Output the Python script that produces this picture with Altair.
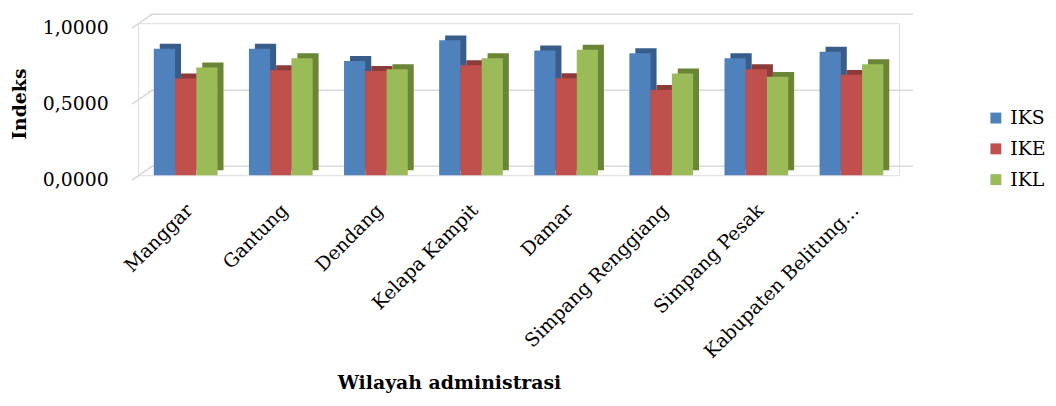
import altair as alt
import pandas as pd

categories = ["Manggar", "Gantung", "Dendang", "Kelapa Kampit", "Damar",
              "Simpang Renggiang", "Simpang Pesak", "Kabupaten Belitung..."]
series = ["IKS", "IKE", "IKL"]
iks = [0.832, 0.832, 0.752, 0.887, 0.821, 0.802, 0.769, 0.812]
ike = [0.636, 0.691, 0.686, 0.723, 0.638, 0.560, 0.697, 0.660]
ikl = [0.708, 0.769, 0.697, 0.769, 0.826, 0.669, 0.647, 0.730]
front_colors = ["#4F81BD", "#C0504D", "#9BBB59"]
side_colors = ["#385D8A", "#8C3B39", "#6B8536"]
y_ticks = [0.0, 0.5, 1.0]

rows = []
for vals, s, sc in zip([iks, ike, ikl], series, side_colors):
    for c, v in zip(categories, vals):
        rows.append(dict(wilayah=c, seri=s, indeks=v, side=sc))
df = pd.DataFrame(rows)
grid_df = pd.DataFrame({"v": y_ticks})

W, H = 766, 153
FONT = "DejaVu Serif"
DEPTH_X, DEPTH_Y = 6, -5

xscale = alt.Scale(paddingInner=0.33, paddingOuter=0.165)
yscale = alt.Scale(domain=[0, 1])

xaxis = alt.Axis(title="Wilayah administrasi", labelAngle=315,
                 labelAlign="right", labelBaseline="middle",
                 labelFont=FONT, labelFontSize=19, labelColor="#000000",
                 labelPadding=32, labelOffset=4, ticks=False, domain=False,
                 labelLimit=400, grid=False,
                 titleFont=FONT, titleFontSize=19, titleFontWeight="bold",
                 titleColor="#000000", titleX=313, titleY=209,
                 titleAlign="center", titleBaseline="middle")
yaxis = alt.Axis(title="Indeks", values=y_ticks,
                 labelExpr="replace(format(datum.value, '.4f'), '.', ',')",
                 labelFont=FONT, labelFontSize=19, labelColor="#000000",
                 labelPadding=30, labelOffset=4, ticks=False, domain=False,
                 grid=False,
                 titleFont=FONT, titleFontSize=19, titleFontWeight="bold",
                 titleColor="#000000", titleX=-119, titleY=81,
                 titleAngle=270, titleAlign="center",
                 titleBaseline="middle")

grid = alt.Chart(grid_df).mark_rule(color="#D9D9D9", strokeWidth=1.6,
                                     xOffset=14, x2Offset=14, yOffset=-9).encode(
    y=alt.Y("v:Q", scale=yscale, axis=yaxis),
    x=alt.value(0),
    x2=alt.value(W),
)
diag = alt.Chart(grid_df).mark_rule(color="#D9D9D9", strokeWidth=1.6,
                                     yOffset=5, y2Offset=-9).encode(
    y=alt.Y("v:Q", scale=yscale, axis=yaxis),
    y2="v:Q",
    x=alt.value(-6),
    x2=alt.value(14),
)

back = alt.Chart(df).mark_bar(yOffset=DEPTH_Y, y2Offset=DEPTH_Y).encode(
    x=alt.X("wilayah:N", sort=categories, scale=xscale, axis=xaxis),
    xOffset=alt.XOffset("seri:N", sort=series,
                        scale=alt.Scale(range=[DEPTH_X, DEPTH_X + 64.15])),
    y=alt.Y("indeks:Q", scale=yscale, axis=yaxis),
    color=alt.Color("side:N", scale=None),
)

front = alt.Chart(df).mark_bar().encode(
    x=alt.X("wilayah:N", sort=categories, scale=xscale, axis=xaxis),
    xOffset=alt.XOffset("seri:N", sort=series),
    y=alt.Y("indeks:Q", scale=yscale, axis=yaxis),
    color=alt.Color("seri:N", sort=series,
                    scale=alt.Scale(domain=series, range=front_colors),
                    legend=alt.Legend(title=None, orient="none", legendX=854,
                                      legendY=86, symbolType="square",
                                      symbolSize=121, symbolStrokeWidth=0,
                                      labelFont=FONT, labelFontSize=19,
                                      labelColor="#000000", labelOffset=5,
                                      rowPadding=11, padding=0)),
)

chart = alt.layer(grid, diag, back, front).resolve_scale(
    xOffset="independent", color="independent"
).properties(
    width=W, height=H,
    autosize=alt.AutoSizeParams(type="none"),
    padding={"left": 131, "top": 14, "right": 150, "bottom": 220},
).configure_view(strokeWidth=0, stroke="transparent").configure(background="white")

chart.save("out.html", embed_options={"renderer": "svg", "actions": False})
